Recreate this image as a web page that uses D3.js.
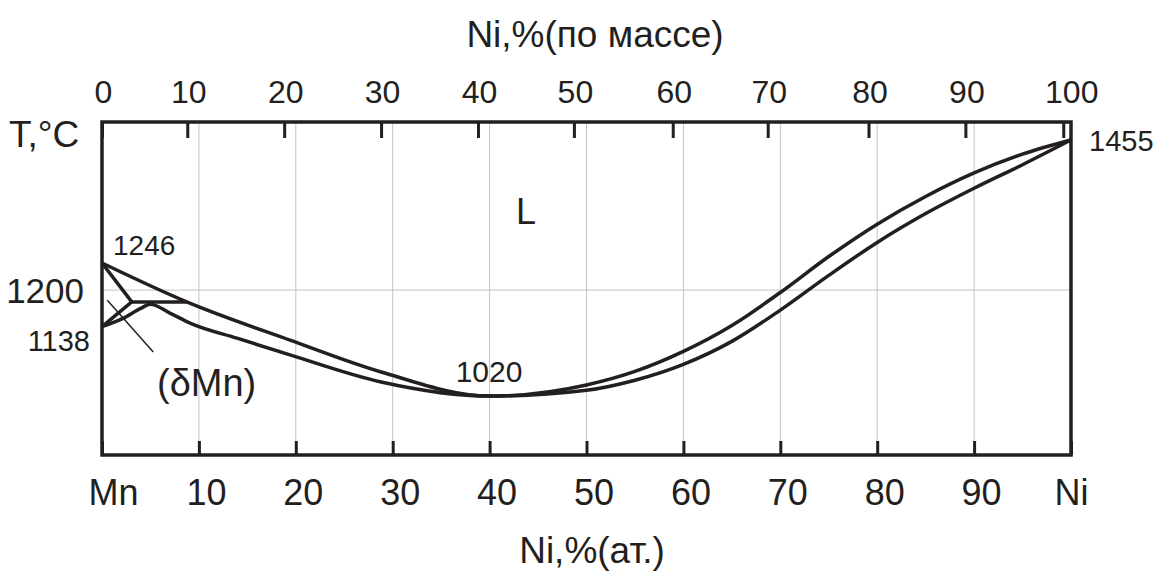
<!DOCTYPE html>
<html lang="ru">
<head>
<meta charset="UTF-8">
<title>Mn-Ni</title>
<script src="https://d3js.org/d3.v7.min.js"></script>
<style>
  body { margin: 0; background: #fff; }
  svg { font-family: "Liberation Sans", Arial, sans-serif; }
  text { fill: #231f20; }
  .grid line { stroke: #c4c4c4; stroke-width: 1; }
  .axis .domain { display: none; }
  .axis line { stroke: #231f20; stroke-width: 3; }
  .curve { fill: none; stroke: #231f20; stroke-width: 3.5; stroke-linejoin: round; }
</style>
</head>
<body>
<div id="chart"></div>
<script>
// нижняя шкала, ат.% Ni
const atTicks = [0, 10, 20, 30, 40, 50, 60, 70, 80, 90, 100];
// верхняя шкала: положение меток по массе (в ат.%) и их подписи
const massTickAt = [0, 8.8, 18.8, 28.8, 38.8, 48.7, 58.9, 68.7, 79.1, 89.1, 99.2];
const massLabels = [0, 10, 20, 30, 40, 50, 60, 70, 80, 90, 100];
const tempGrid = [1200];

// ликвидус
const liqAt = [0, 8.74, 19.4, 28.8, 40, 50, 55, 60, 65, 70, 75, 80, 85, 90, 95, 100];
const liqT  = [1246, 1180, 1115, 1061, 1020, 1039, 1062, 1096, 1140, 1196, 1257, 1312, 1359, 1399, 1431, 1455];
// солидус (gamma) вместе с границей (gamma)/(delta+gamma)
const solAt = [0, 2.17, 4.0, 5.0, 7, 9.08, 14, 19.4, 28.8, 40, 50, 55, 60, 65, 70, 75, 80, 85, 90, 95, 100];
const solT  = [1138, 1152, 1169, 1176, 1161, 1144, 1118, 1090, 1044, 1020, 1030, 1047, 1074, 1113, 1166, 1225, 1281, 1330, 1373, 1413, 1455];
// область (deltaMn)
const deltaSolAt = [0, 3.07];
const deltaSolT  = [1246, 1180];
const deltaLowAt = [3.07, 0];
const deltaLowT  = [1180, 1138];
const periAt = [3.07, 8.74];
const periT  = [1180, 1180];
// выноска к (deltaMn)
const leaderAt = [0.55, 5.29];
const leaderT  = [1183, 1095];

const W = 1168, H = 574;
const margin = { top: 122, right: 97, bottom: 119, left: 102 };
const width = W - margin.left - margin.right;
const height = H - margin.top - margin.bottom;

const svg = d3.select("#chart").append("svg")
    .attr("width", W).attr("height", H);
const g = svg.append("g")
    .attr("transform", `translate(${margin.left},${margin.top})`);

const x = d3.scaleLinear().domain([0, 100]).range([0, width]);
const y = d3.scaleLinear().domain([920, 1485.5]).range([height, 0]);

// сетка
g.append("g").attr("class", "grid")
  .selectAll("line").data(atTicks.slice(1, -1)).join("line")
    .attr("x1", d => x(d)).attr("x2", d => x(d))
    .attr("y1", 0).attr("y2", height);
g.append("g").attr("class", "grid")
  .selectAll("line").data(tempGrid).join("line")
    .attr("x1", 0).attr("x2", width)
    .attr("y1", d => y(d)).attr("y2", d => y(d));

// оси
const axisB = g.append("g").attr("class", "axis")
    .attr("transform", `translate(0,${height})`)
    .call(d3.axisBottom(x).tickValues(atTicks).tickSize(-14).tickPadding(24)
      .tickFormat(d => d === 0 ? "Mn" : d === 100 ? "Ni" : d));
axisB.selectAll("text").attr("font-size", 36)
    .attr("dx", d => d === 0 ? 11 : d === 100 ? 0 : 7);

const axisT = g.append("g").attr("class", "axis")
    .call(d3.axisTop(x).tickValues(massTickAt).tickSize(-16).tickPadding(19)
      .tickFormat((d, i) => massLabels[i]));
axisT.selectAll("text").attr("font-size", 32)
    .attr("dx", (d, i) => i === massLabels.length - 1 ? 8 : 1);

// рамка
g.append("rect")
    .attr("width", width).attr("height", height)
    .attr("fill", "none").attr("stroke", "#231f20").attr("stroke-width", 3.5);

// кривые
const smooth = d3.line().x(d => x(d[0])).y(d => y(d[1])).curve(d3.curveMonotoneX);
const straight = d3.line().x(d => x(d[0])).y(d => y(d[1]));
const zip = (a, b) => a.map((v, i) => [v, b[i]]);

g.append("path").attr("class", "curve").attr("d", smooth(zip(liqAt, liqT)));
g.append("path").attr("class", "curve").attr("d", smooth(zip(solAt, solT)));
g.append("path").attr("class", "curve").attr("d", straight(zip(deltaSolAt, deltaSolT)));
g.append("path").attr("class", "curve").attr("d", straight(zip(deltaLowAt, deltaLowT)));
g.append("path").attr("class", "curve").attr("d", straight(zip(periAt, periT)));
g.append("path").attr("d", straight(zip(leaderAt, leaderT)))
    .attr("fill", "none").attr("stroke", "#231f20").attr("stroke-width", 1.5);

// подписи
const label = (tx, ty, s, size, anchor) => svg.append("text")
    .attr("x", tx).attr("y", ty).attr("font-size", size)
    .attr("text-anchor", anchor || "start").text(s);

label(595, 47, "Ni,%(по массе)", 37, "middle");
label(592, 563, "Ni,%(ат.)", 37, "middle");
label(9, 147, "T,°C", 37);
label(84, 303, "1200", 35, "end");
label(90, 351, "1138", 29, "end");
label(113, 255, "1246", 28);
label(157, 396, "(δMn)", 38);
label(516, 224, "L", 36);
label(489, 382, "1020", 30, "middle");
label(1089, 151, "1455", 29);
</script>
</body>
</html>
